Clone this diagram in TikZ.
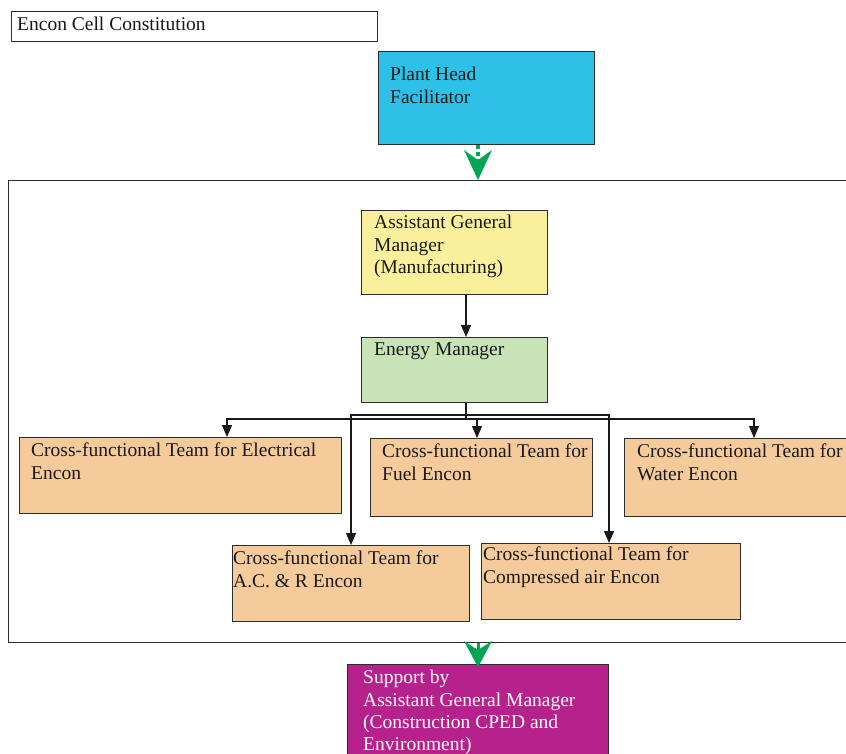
\documentclass[tikz,border=0pt]{standalone}
\usepackage{fontspec}
\setmainfont{Liberation Serif}
\usetikzlibrary{arrows.meta}
\definecolor{cyanbox}{RGB}{46,193,232}
\definecolor{yellowbox}{RGB}{250,240,155}
\definecolor{greenbox}{RGB}{199,227,183}
\definecolor{orangebox}{RGB}{246,203,155}
\definecolor{magentabox}{RGB}{182,33,139}
\definecolor{arrowgreen}{RGB}{0,166,81}
\definecolor{edge}{RGB}{45,45,45}
\tikzset{
  box/.style={draw=edge, line width=1.2pt, rectangle, inner sep=0pt, anchor=north west},
  txt/.style={anchor=north west, inner sep=0pt, align=left, font=\fontsize{19.5}{22.4}\selectfont, text=black!90},
  wire/.style={draw=black!90, line width=1.3pt},
  arr/.style={wire, -{Triangle[length=12pt,width=10pt]}},
  garr/.style={draw=arrowgreen, line width=4pt, dash pattern=on 4pt off 3pt, -{Stealth[length=30pt,width=28pt,inset=10pt,fill=arrowgreen,line width=0pt]}},
  garrhead/.style={draw=arrowgreen, line width=3pt, -{Stealth[length=26pt,width=28pt,inset=9pt,fill=arrowgreen,line width=0pt]}},
}
\begin{document}
\begin{tikzpicture}[x=1pt,y=-1pt]
\path[use as bounding box] (0,0) rectangle (846,753);
\clip (0,0) rectangle (846,753);
% title
\node[box, fill=white, minimum width=366pt, minimum height=30pt] (title) at (11,11) {};
\node[txt] (titlet) at ([shift={(6pt,-6pt)}]title.north west) {Encon Cell Constitution};
% plant head
\node[box, fill=cyanbox, minimum width=216pt, minimum height=93pt] (plant) at (378,51) {};
\node[txt] (plantt) at ([shift={(12pt,-16pt)}]plant.north west) {Plant Head\\Facilitator};
% frame
\node[box, fill=white, minimum width=860pt, minimum height=462pt] (frame) at (8,180) {};
% AGM
\node[box, fill=yellowbox, minimum width=186pt, minimum height=84pt] (agm) at (361,210) {};
\node[txt] (agmt) at ([shift={(13pt,-5pt)}]agm.north west) {Assistant General\\Manager\\(Manufacturing)};
% Energy manager
\node[box, fill=greenbox, minimum width=186pt, minimum height=65pt] (em) at (361,337) {};
\node[txt] (emt) at ([shift={(13pt,-6pt)}]em.north west) {Energy Manager};
% teams
\node[box, fill=orangebox, minimum width=322pt, minimum height=76pt] (elec) at (19,437) {};
\node[txt] (elect) at ([shift={(12pt,-6pt)}]elec.north west) {Cross-functional Team for Electrical\\Encon};
\node[box, fill=orangebox, minimum width=222pt, minimum height=78pt] (fuel) at (370,438) {};
\node[txt] (fuelt) at ([shift={(12pt,-6pt)}]fuel.north west) {Cross-functional Team for\\Fuel Encon};
\node[box, fill=orangebox, minimum width=240pt, minimum height=78pt] (water) at (624,438) {};
\node[txt] (watert) at ([shift={(13pt,-6pt)}]water.north west) {Cross-functional Team for\\Water Encon};
\node[box, fill=orangebox, minimum width=237pt, minimum height=76pt] (ac) at (232,545) {};
\node[txt] (act) at ([shift={(1pt,-6pt)}]ac.north west) {Cross-functional Team for\\A.C. \& R Encon};
\node[box, fill=orangebox, minimum width=259pt, minimum height=76pt] (comp) at (481,543) {};
\node[txt] (compt) at ([shift={(2pt,-4pt)}]comp.north west) {Cross-functional Team for\\Compressed air Encon};
% support
\node[box, fill=magentabox, minimum width=261pt, minimum height=110pt] (supp) at (347,664) {};
\node[txt, text=white] (suppt) at ([shift={(16pt,-6pt)}]supp.north west) {Support by\\Assistant General Manager\\(Construction CPED and\\Environment)};
% coordinates
\coordinate (c1) at (466,0);
\coordinate (jA) at (466,419);
\coordinate (jB) at (466,415);
\coordinate (cE) at (227,0);
\coordinate (cF) at (477,0);
\coordinate (cW) at (754,0);
\coordinate (cA) at (351,0);
\coordinate (cC) at (609,0);
\coordinate (g1) at (478,0);
\coordinate (g2) at (478,667);
% connectors
\draw[arr] (agm.south -| c1) -- (em.north -| c1);
\draw[wire] (em.south -| c1) -- (jA);
\draw[arr] (jA) -| (elec.north -| cE);
\draw[arr] (jA) -| (fuel.north -| cF);
\draw[arr] (jA) -| (water.north -| cW);
\draw[arr] (jB) -| (ac.north -| cA);
\draw[arr] (jB) -| (comp.north -| cC);
% green arrows
\draw[garr] (plant.south -| g1) -- (frame.north -| g1);
\draw[garrhead] (frame.south -| g1) -- (g2);
\end{tikzpicture}
\end{document}
